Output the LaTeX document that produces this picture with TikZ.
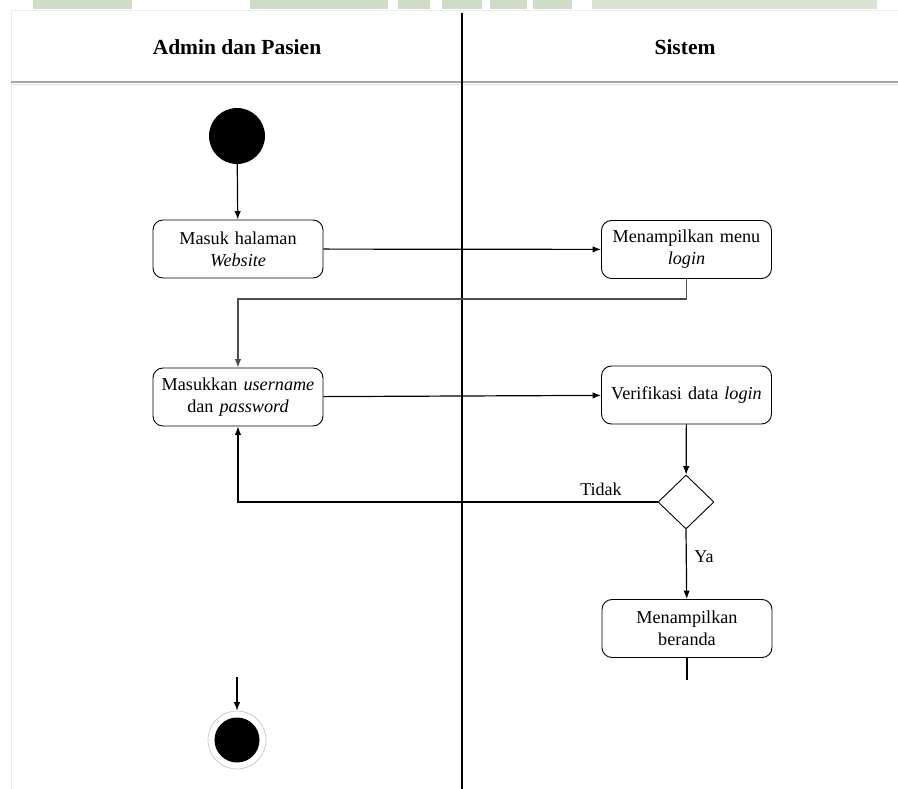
\documentclass[tikz,border=0pt]{standalone}
\usepackage{fontspec}
\setmainfont{Liberation Serif}
\usetikzlibrary{shapes.geometric,arrows.meta}
\definecolor{band}{HTML}{CFDDC6}
\definecolor{bandlight}{HTML}{D9E4D2}
\begin{document}
\begin{tikzpicture}[x=1pt,y=-1pt,
  act/.style={draw, line width=0.9pt, rounded corners=10pt, fill=white,
    minimum width=170pt, minimum height=58pt, text width=166pt,
    align=center, inner sep=0pt, font=\fontsize{18.2}{22}\selectfont},
  decision/.style={diamond, draw, line width=0.9pt, fill=white,
    minimum width=56pt, minimum height=54pt, inner sep=0pt},
  flow/.style={line width=1.2pt, -{Latex[length=8.5pt,width=6.5pt]}},
  plain/.style={line width=1.2pt},
  lanehead/.style={font=\bfseries\fontsize{21.5}{24}\selectfont},
  guard/.style={font=\fontsize{18}{20}\selectfont}
]
\useasboundingbox (0,0) rectangle (898,789);
\fill[white] (0,0) rectangle (898,789);

% green strip along the upper edge
\fill[band] (33,0) rectangle (132,9.5);
\fill[band] (250,0) rectangle (388,9.5);
\fill[band] (398,0) rectangle (430,9.5);
\fill[band] (442,0) rectangle (482,9.5);
\fill[band] (490,0) rectangle (527,9.5);
\fill[band] (533,0) rectangle (572,9.5);
\fill[bandlight] (592,0) rectangle (877,9.5);

% swimlane frame
\draw[gray!15, line width=0.6pt] (11,789) -- (11,10.5) -- (898,10.5);
\draw[gray!25, line width=1pt] (11,84.5) -- (898,84.5);
\draw[gray!70, line width=1.6pt] (11,82) -- (898,82);
\draw[line width=1.3pt] (462,13) -- (462,789);
\node[lanehead] (lane1) at (237,47) {Admin dan Pasien};
\node[lanehead] (lane2) at (685,47) {Sistem};

% activities
\node[circle, fill=black, minimum size=56pt, inner sep=0pt] (start) at (237,136) {};
\node[act] (b1) at (238,249) {Masuk halaman\\\textit{Website}};
\node[act] (b2) at (686.5,249.5) {Menampilkan menu\\\textit{login}};
\node[act] (b3) at (238,397) {Masukkan \textit{username}\\dan \textit{password}};
\node[act] (b4) at (686.5,395) {Verifikasi data \textit{login}};
\node[decision] (dec) at (686,502) {};
\node[act] (b5) at (687,628.5) {Menampilkan\\beranda};
\node[circle, draw=gray!50, line width=0.6pt, minimum size=58pt, inner sep=0pt] (stop) at (237,740) {};
\fill[black] (stop.center) circle (22.5);

% connectors
\draw[flow] (start) -- (b1);
\draw[flow] (b1) -- (b2);
\draw[flow, draw=black!70] (b2.south) -- ++(0,20) -| (b3.north);
\draw[flow] (b3) -- (b4);
\draw[flow] (b4) -- (dec);
\draw[flow] (dec.west) -| (b3.south);
\draw[flow] (dec.south) -- (b5);
\node[guard] (tidak) at (601,489) {Tidak};
\node[guard] (ya) at (704,557) {Ya};

\coordinate (tail) at (687,680);
\draw[plain] (b5.south) -- (tail);
\coordinate (stopin) at (237,677);
\draw[flow] (stopin) -- (stop.north);
\end{tikzpicture}
\end{document}
